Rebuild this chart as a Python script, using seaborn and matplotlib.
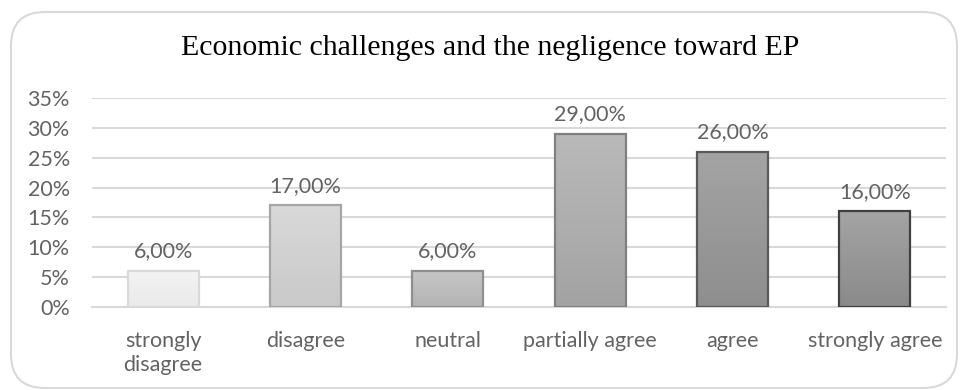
import matplotlib
matplotlib.use("Agg")
import matplotlib.pyplot as plt
import matplotlib.colors as mcolors
from matplotlib.patches import FancyBboxPatch
import numpy as np
import pandas as pd
import seaborn as sns

# Survey responses (share of respondents)
categories = ["strongly\ndisagree", "disagree", "neutral", "partially agree", "agree", "strongly agree"]
shares = [0.06, 0.17, 0.06, 0.29, 0.26, 0.16]
value_labels = ["6,00%", "17,00%", "6,00%", "29,00%", "26,00%", "16,00%"]
y_ticks = [0.0, 0.05, 0.10, 0.15, 0.20, 0.25, 0.30, 0.35]
y_tick_labels = ["0%", "5%", "10%", "15%", "20%", "25%", "30%", "35%"]
title = "Economic challenges and the negligence toward EP"

# Per-bar gradient (top, bottom) and outline colours
grad_top = ["#f3f3f3", "#d9d9d9", "#c6c6c6", "#b9b9b9", "#a4a4a4", "#a4a4a4"]
grad_bottom = ["#eaeaea", "#c9c9c9", "#b3b3b3", "#a3a3a3", "#8e8e8e", "#8a8a8a"]
edge_colors = ["#d9d9d9", "#a6a6a6", "#8f8f8f", "#808080", "#595959", "#404040"]

df = pd.DataFrame({"category": categories, "share": shares})

sns.set_theme(style="white")
plt.rcParams["font.family"] = ["Lato", "DejaVu Sans"]

fig = plt.figure(figsize=(9.61, 3.90), dpi=100)
ax = fig.add_axes([92 / 961, 1 - 307 / 390, (946 - 92) / 961, (307 - 98) / 390])

sns.barplot(data=df, x="category", y="share", ax=ax, width=0.5,
            color="#bbbbbb", saturation=1, errorbar=None, zorder=3)

ax.set_ylim(0, 0.35)
ax.set_xlim(-0.5, len(categories) - 0.5)
ax.set_yticks(y_ticks)
ax.set_yticklabels(y_tick_labels)
ax.set_xlabel("")
ax.set_ylabel("")

# Horizontal gridlines behind the bars
ax.set_axisbelow(True)
ax.yaxis.grid(True, color="#d9d9d9", linewidth=1.5)
ax.xaxis.grid(False)
for side in ["top", "right", "left"]:
    ax.spines[side].set_visible(False)
ax.spines["bottom"].set_color("#d9d9d9")
ax.spines["bottom"].set_linewidth(1.5)

label_size = 15.5
text_gray = "#636363"
ax.tick_params(axis="y", length=0, pad=16, labelsize=label_size, labelcolor=text_gray)
ax.tick_params(axis="x", length=0, pad=17, labelsize=label_size, labelcolor=text_gray)
for lbl in ax.get_xticklabels():
    lbl.set_linespacing(1.25)

# Vertical gradient fills clipped to each bar
for i, patch in enumerate(ax.patches):
    x0, y0 = patch.get_x(), patch.get_y()
    w, h = patch.get_width(), patch.get_height()
    cmap = mcolors.LinearSegmentedColormap.from_list(
        f"bar{i}", [grad_bottom[i], grad_top[i]])
    grad = np.linspace(0, 1, 256).reshape(-1, 1)
    img = ax.imshow(grad, cmap=cmap, aspect="auto", origin="lower",
                    extent=[x0, x0 + w, y0, y0 + h], zorder=2.9)
    img.set_clip_path(patch)
    patch.set_facecolor("none")
    patch.set_edgecolor(edge_colors[i])
    patch.set_linewidth(1.6)
    patch.set_zorder(3)

ax.set_xlim(-0.5, len(categories) - 0.5)
ax.set_ylim(0, 0.35)

# Value labels above the bars
for i, (v, txt) in enumerate(zip(shares, value_labels)):
    ax.annotate(txt, (i, v), xytext=(0, 7), textcoords="offset points",
                ha="center", va="bottom", fontsize=label_size, color=text_gray, zorder=4)

fig.text(490 / 961, 1 - 48 / 390, title, ha="center", va="center",
         fontsize=21.5, family=["Liberation Serif", "DejaVu Serif"], color="#000000")

# Rounded chart frame
frame = FancyBboxPatch((11 / 961, 2 / 390), (957 - 11) / 961, (378 - 2) / 390,
                       boxstyle="round,pad=0,rounding_size=0.035",
                       transform=fig.transFigure, facecolor="none",
                       edgecolor="#d9d9d9", linewidth=1.5, mutation_aspect=961 / 390)
fig.patches.append(frame)

fig.savefig("out.png", dpi=100)
